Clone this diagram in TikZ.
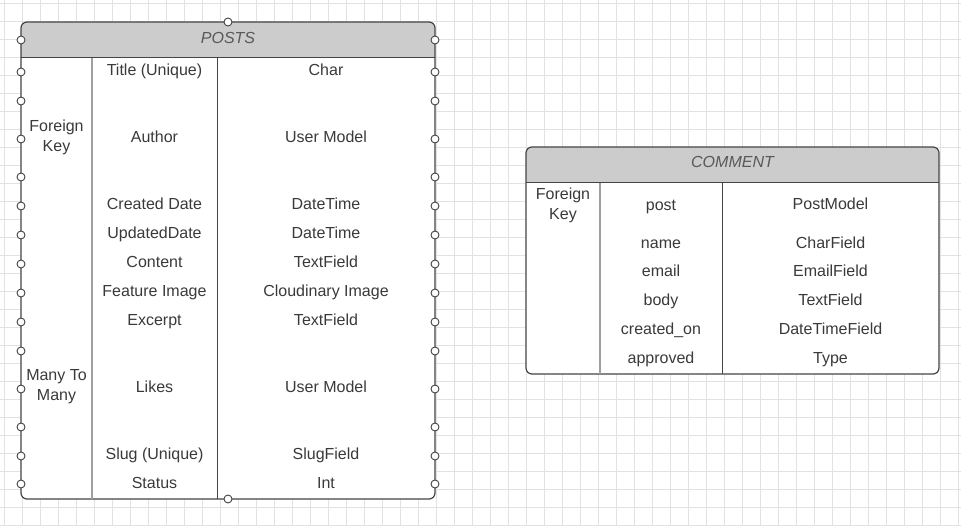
\documentclass[tikz,border=0pt]{standalone}
\usepackage{fontspec}
\setmainfont{Liberation Sans}
\definecolor{gridgray}{HTML}{E2E2E2}
\definecolor{headgray}{HTML}{CCCCCC}
\definecolor{edgegray}{HTML}{444444}
\definecolor{textgray}{HTML}{3A3A3A}
\tikzset{
  gridline/.style={draw=gridgray, line width=0.8pt},
  tablebox/.style={draw=edgegray, line width=1.2pt, rounded corners=6pt},
  keyline/.style={draw=gray!75, line width=1.6pt},
  typeline/.style={draw=edgegray, line width=1pt},
  port/.style={circle, draw=edgegray, fill=white, line width=0.9pt, inner sep=0pt, minimum size=8pt},
  twoline/.style={text=textgray, align=center, inner sep=1pt, font=\fontsize{16}{20}\selectfont},
  cell/.style={twoline, text height=11.5pt, text depth=0pt},
  title/.style={cell, text=black!65, font=\fontsize{16}{20}\selectfont\itshape}
}
\begin{document}
\begin{tikzpicture}[x=1pt, y=-1pt]
  \useasboundingbox (0,0) rectangle (961,526);
  \fill[white] (0,0) rectangle (961,526);
  \foreach \gx in {0,...,53}
    \draw[gridline] ({4.5+18*\gx},0) -- ({4.5+18*\gx},526);
  \foreach \gy in {0,...,29}
    \draw[gridline] (0,{3.3+18*\gy}) -- (961,{3.3+18*\gy});

  % posts
  \coordinate (pnw) at (21,22);
  \coordinate (pse) at (435,499);
  \fill[white, rounded corners=6pt] (pnw) rectangle (pse);
  \begin{scope}
    \clip[rounded corners=6pt] (pnw) rectangle (pse);
    \fill[headgray] (pnw) rectangle (435,58);
  \end{scope}
  \draw[tablebox] (pnw) rectangle (pse);
  \draw[typeline] (21,58) -- (435,58);
  \draw[keyline] (92,58) -- (92,499);
  \draw[typeline] (217,58) -- (217,499);
  \node[title] (ptitle) at (228,38) {POSTS};

  \node[twoline] (pfk) at (56.5,137) {Foreign\\Key};
  \node[twoline] (pm2m) at (56.5,387) {Many To\\Many};
  \node[cell] (ptitlef) at (154.5,70) {Title (Unique)};
  \node[cell] (pauthor) at (154.5,137) {Author};
  \node[cell] (pcreated) at (154.5,204) {Created Date};
  \node[cell] (pupdated) at (154.5,233) {UpdatedDate};
  \node[cell] (pcontent) at (154.5,262) {Content};
  \node[cell] (pimage) at (154.5,291) {Feature Image};
  \node[cell] (pexcerpt) at (154.5,320) {Excerpt};
  \node[cell] (plikes) at (154.5,387) {Likes};
  \node[cell] (pslug) at (154.5,454) {Slug (Unique)};
  \node[cell] (pstatus) at (154.5,483) {Status};
  \node[cell] (ttitle) at (326,70) {Char};
  \node[cell] (tauthor) at (326,137) {User Model};
  \node[cell] (tcreated) at (326,204) {DateTime};
  \node[cell] (tupdated) at (326,233) {DateTime};
  \node[cell] (tcontent) at (326,262) {TextField};
  \node[cell] (timage) at (326,291) {Cloudinary Image};
  \node[cell] (texcerpt) at (326,320) {TextField};
  \node[cell] (tlikes) at (326,387) {User Model};
  \node[cell] (tslug) at (326,454) {SlugField};
  \node[cell] (tstatus) at (326,483) {Int};

  \foreach \py [count=\i] in {40,72,101,139,177,206,235,264,293,322,351,389,427,456,484} {
    \node[port] (wport\i) at (21,\py) {};
    \node[port] (eport\i) at (435,\py) {};
  }
  \node[port] (nport) at (228,22) {};
  \node[port] (sport) at (228,499) {};

  % comment
  \coordinate (cnw) at (526,147);
  \coordinate (cse) at (939,374);
  \fill[white, rounded corners=6pt] (cnw) rectangle (cse);
  \begin{scope}
    \clip[rounded corners=6pt] (cnw) rectangle (cse);
    \fill[headgray] (cnw) rectangle (939,183);
  \end{scope}
  \draw[tablebox] (cnw) rectangle (cse);
  \draw[typeline] (526,183) -- (939,183);
  \draw[keyline] (600,183) -- (600,374);
  \draw[typeline] (722,183) -- (722,374);
  \node[title] (ctitle) at (732.5,162) {COMMENT};

  \node[twoline] (cfk) at (563,205) {Foreign\\Key};
  \node[cell] (cpost) at (661,205) {post};
  \node[cell] (cname) at (661,243) {name};
  \node[cell] (cemail) at (661,271) {email};
  \node[cell] (cbody) at (661,300) {body};
  \node[cell] (ccreated) at (661,329) {created\_on};
  \node[cell] (capproved) at (661,358) {approved};
  \node[cell] (dpost) at (830.5,204) {PostModel};
  \node[cell] (dname) at (830.5,243) {CharField};
  \node[cell] (demail) at (830.5,271) {EmailField};
  \node[cell] (dbody) at (830.5,300) {TextField};
  \node[cell] (dcreated) at (830.5,329) {DateTimeField};
  \node[cell] (dapproved) at (830.5,358) {Type};
\end{tikzpicture}
\end{document}
